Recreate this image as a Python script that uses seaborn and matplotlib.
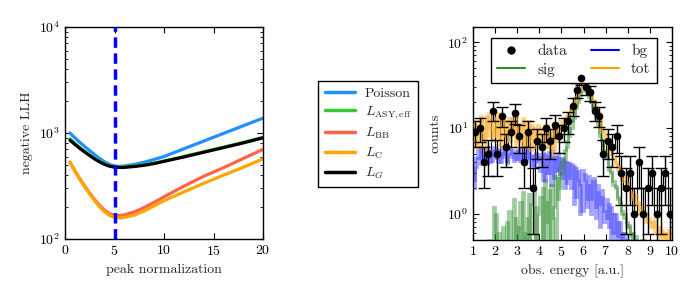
import numpy as np
import pandas as pd
import matplotlib
matplotlib.use("Agg")
import matplotlib.pyplot as plt
from matplotlib.lines import Line2D
import seaborn as sns

# ---------------- data: left panel (negative log-likelihood scans) ----------------
norm_x = [0.5, 1, 1.5, 2, 2.5, 3, 3.5, 4, 4.5, 5, 5.5, 6, 7, 8, 9, 10, 12, 14, 16, 18, 20]
llh_poisson = [1000, 900, 815, 745, 680, 625, 575, 535, 505, 488, 484, 488, 505, 530, 563,
               600, 709, 838, 990, 1170, 1380]
llh_asy = [880, 800, 730, 670, 620, 575, 540, 510, 490, 480, 477, 478, 487, 500, 520,
           545, 600, 665, 735, 815, 910]
llh_bb = [530, 440, 370, 315, 270, 235, 207, 187, 173, 167, 166, 169, 180, 198, 222,
          250, 315, 390, 470, 575, 700]
llh_c = [530, 437, 366, 310, 265, 229, 201, 181, 167, 160, 158, 160, 168, 184, 205,
         230, 278, 335, 400, 475, 570]
llh_g = [855, 780, 715, 660, 612, 568, 534, 505, 486, 476, 473, 474, 483, 496, 515,
         540, 594, 658, 728, 806, 900]
true_norm = 5
llh_labels = ["Poisson", r"$L_{\mathrm{ASY,eff}}$", r"$L_{\mathrm{BB}}$", r"$L_{\mathrm{C}}$", r"$L_G$"]
llh_colors = ["#1e90ff", "#32cd32", "#ff6347", "#ffa500", "#000000"]

# ---------------- data: right panel (spectrum) ----------------
data_edges = np.round(np.arange(1.0, 10.0001, 0.2), 2)
data_counts = [9, 10, 4, 5, 16, 5, 14, 6, 9, 15,
               8, 4, 9, 2, 7, 6, 10, 7, 11, 8,
               10, 12, 18, 28, 38, 30, 26, 16, 14, 5,
               7, 6, 8, 3, 2, 3, 1, 4, 1, 2,
               3, 1, 2, 3, 1]

model_edges = np.round(np.arange(1.0, 10.0001, 0.1), 2)
tot_a = [7, 12, 6, 13, 9, 5, 14, 10, 7, 13,
         8, 15, 6, 12, 10, 7, 13, 8, 12, 6,
         11, 7, 13, 6, 9, 12, 5.5, 10, 7, 8,
         10, 5.5, 8, 11, 6, 9, 5, 11, 7.5, 10,
         11, 13, 12, 15, 17, 19, 23, 26, 30, 33,
         35, 28, 30, 24, 20, 17, 15, 12, 10, 8,
         7.5, 6, 5.5, 4.5, 4, 3.6, 3.2, 2.6, 2.8, 2.2,
         2.0, 1.8, 1.5, 1.7, 1.3, 1.1, 1.2, 0.9, 1.0, 0.8,
         0.8, 0.7, 0.9, 0.6, 0.7, 0.55, 0.6, 0.5, 0.65, 0.5]
tot_b = [11, 6, 9, 14, 7, 12, 8, 15, 10, 8,
         13, 7, 11, 14, 8, 12, 7, 13, 9, 14,
         7, 11, 6, 12, 9, 7, 11, 6, 9, 11,
         6.5, 10, 11, 6, 8.5, 5.5, 11, 7, 9.5, 12,
         10, 12, 14, 13, 16, 20, 21, 25, 28, 31,
         32, 31, 27, 25, 21, 18, 14, 13, 9, 9,
         6.5, 6.8, 5, 4.8, 3.8, 3.3, 3.4, 2.5, 2.4, 2.3,
         1.9, 1.6, 1.7, 1.4, 1.4, 1.0, 1.1, 1.0, 0.8, 0.9,
         0.7, 0.8, 0.6, 0.7, 0.5, 0.65, 0.5, 0.6, 0.45, 0.55]
sig_a = [0, 0, 0, 0, 0, 0, 0, 0.5, 0, 1.2,
         0, 0.6, 0, 0, 0.4, 0.8, 0, 0, 1.5, 0,
         0.7, 0, 1.8, 0, 0.9, 0, 1.3, 2.2, 0, 1.0,
         1.6, 0, 2.5, 0.8, 1.9, 0, 1.2, 2.8, 1.5, 3.5,
         4, 5.5, 7, 9, 12, 15, 19, 22, 26, 29,
         30, 27, 25, 21, 17, 14, 11, 9, 7, 5.5,
         4.5, 3.6, 3.0, 2.4, 2.0, 1.6, 1.3, 1.1, 0.9, 0.8,
         0.7, 0.6, 0.5, 0.55, 0.45, 0.4, 0, 0.5, 0, 0,
         0, 0, 0, 0, 0, 0, 0, 0, 0, 0]
sig_b = [0, 0, 0, 0, 0, 0, 0.45, 0, 0, 0,
         1.0, 0, 0, 0.7, 0, 0, 1.1, 0, 0, 0.9,
         0, 1.4, 0, 0.6, 0, 1.7, 0, 0, 1.2, 0,
         0, 2.0, 0, 1.4, 0, 2.2, 0.9, 0, 2.6, 2.0,
         3, 4.5, 6, 8, 10, 13, 17, 20, 24, 27,
         28, 28, 23, 20, 18, 13, 12, 8, 7.5, 5,
         4.8, 3.3, 3.2, 2.2, 2.1, 1.5, 1.4, 1.0, 1.0, 0.7,
         0.75, 0.55, 0.6, 0.5, 0, 0.45, 0.5, 0, 0, 0,
         0, 0, 0, 0, 0, 0, 0, 0, 0, 0]
bg_a = [2, 3.5, 4.5, 6, 4, 5, 3.8, 5.5, 4.2, 6,
        4.5, 5.5, 4, 6, 5, 4.2, 5.8, 4.6, 5.2, 4.4,
        5.5, 4.2, 5, 3.8, 5.6, 4.5, 4.8, 3.6, 5.2, 4.3,
        4.6, 2.5, 5.0, 3.0, 5.3, 2.2, 4.6, 3.2, 5.2, 2.9,
        4.4, 2.0, 4.0, 2.6, 3.8, 1.3, 3.4, 2.5, 1.0, 3.3,
        2.5, 1.2, 2.8, 1.5, 2.6, 0.9, 2.2, 1.3, 1.9, 0.8,
        1.5, 0.7, 1.2, 0.6, 1.0, 0.55, 0.8, 0, 0.6, 0,
        0.5, 0.45, 0, 0.5, 0, 0, 0, 0, 0, 0,
        0, 0, 0, 0, 0, 0, 0, 0, 0, 0]
bg_b = [2.5, 4.5, 5.5, 3.8, 5.2, 4.4, 6, 4.0, 5.4, 4.8,
        5.6, 4.0, 5.2, 4.6, 6.2, 3.9, 5.0, 5.6, 4.1, 5.4,
        4.4, 5.8, 3.9, 5.1, 4.3, 5.5, 3.7, 4.9, 4.0, 5.0,
        3.2, 5.2, 2.4, 4.8, 3.0, 5.5, 2.6, 4.6, 3.3, 4.5,
        2.6, 4.2, 2.3, 3.9, 2.0, 3.6, 1.6, 3.2, 2.2, 1.1,
        2.9, 1.5, 2.2, 1.0, 2.4, 1.2, 1.8, 0.7, 1.6, 1.1,
        0.9, 1.3, 0.5, 1.0, 0.45, 0.8, 0, 0.6, 0, 0.5,
        0.45, 0, 0.5, 0, 0.45, 0, 0, 0, 0, 0,
        0, 0, 0, 0, 0, 0, 0, 0, 0, 0]

# ---------------- style ----------------
sns.set_style("ticks")
plt.rcParams.update({
    "font.family": ["serif"],
    "font.serif": ["cmr10", "DejaVu Serif"],
    "mathtext.fontset": "cm",
    "axes.formatter.use_mathtext": True,
    "font.size": 10,
    "axes.edgecolor": "black",
    "axes.linewidth": 1.0,
    "xtick.direction": "in",
    "ytick.direction": "in",
    "xtick.top": True,
    "ytick.right": True,
    "xtick.major.size": 4,
    "ytick.major.size": 4,
    "xtick.minor.size": 2,
    "ytick.minor.size": 2,
    "xtick.color": "black",
    "ytick.color": "black",
    "axes.unicode_minus": False,
})

fig = plt.figure(figsize=(7, 3), dpi=100)
ax1 = fig.add_axes([65 / 700, 61 / 300, 198 / 700, 212 / 300])
ax2 = fig.add_axes([473 / 700, 60 / 300, 199 / 700, 213 / 300])

# ---------------- left panel ----------------
series = [llh_poisson, llh_asy, llh_bb, llh_c, llh_g]
frames = []
for lab, vals in zip(llh_labels, series):
    frames.append(pd.DataFrame({"x": norm_x, "y": vals, "method": lab}))
df = pd.concat(frames, ignore_index=True)
sns.lineplot(data=df, x="x", y="y", hue="method", hue_order=llh_labels,
             palette=llh_colors, linewidth=2.3, ax=ax1, legend=False, sort=True)
ax1.axvline(true_norm, color="#0000ff", lw=2.5, ls=(0, (3, 1.6)), zorder=5)
ax1.set_yscale("log")
ax1.set_xlim(0, 20)
ax1.set_ylim(100, 10000)
ax1.set_xticks([0, 5, 10, 15, 20])
ax1.set_xlabel("peak normalization")
ax1.set_ylabel("negative LLH")

handles = [Line2D([], [], color=c, lw=2.5) for c in llh_colors]
fig.legend(handles, llh_labels, loc="center", bbox_to_anchor=(368 / 700, 1 - 134 / 300),
           frameon=True, fancybox=False, edgecolor="black", framealpha=1,
           handlelength=2.2, handletextpad=0.7, labelspacing=0.33, borderpad=0.45)

# ---------------- right panel ----------------
dedges = np.asarray(data_edges)
dcent = 0.5 * (dedges[:-1] + dedges[1:])
dcounts = np.asarray(data_counts, dtype=float)
err = np.sqrt(dcounts)
ax2.stairs(dcounts, dedges, baseline=None, color="black", lw=0.8, zorder=1)
ax2.errorbar(dcent, dcounts, yerr=[np.minimum(err, dcounts - 1e-3), err], fmt="o",
             color="black", ms=4.5, capsize=4, elinewidth=1.0, capthick=1.0, zorder=5)

for vals in (bg_a, bg_b):
    ax2.stairs(vals, model_edges, baseline=None, color="#3333ff", lw=2, alpha=0.45, zorder=2)
for vals in (sig_a, sig_b):
    ax2.stairs(vals, model_edges, baseline=None, color="#2e8b2e", lw=2, alpha=0.45, zorder=3)
for vals in (tot_a, tot_b):
    ax2.stairs(vals, model_edges, baseline=None, color="#ffb030", lw=2, alpha=0.55, zorder=4)

ax2.set_yscale("log")
ax2.set_xlim(1, 10)
ax2.set_ylim(0.5, 150)
ax2.set_xticks(range(1, 11))
ax2.set_xlabel("obs. energy [a.u.]")
ax2.set_ylabel("counts")

h2 = [Line2D([], [], color="black", marker="o", ls="none", ms=5),
      Line2D([], [], color="#2e8b2e", lw=1.5),
      Line2D([], [], color="#0000ff", lw=1.5),
      Line2D([], [], color="#ffa500", lw=1.5)]
ax2.legend(h2, ["data", "sig", "bg", "tot"], ncol=2, loc="upper center",
           bbox_to_anchor=(0.507, 0.985), frameon=True, fancybox=False, edgecolor="black",
           framealpha=1, fontsize=11, handlelength=1.8, handletextpad=0.8,
           columnspacing=1.6, labelspacing=0.3, borderpad=0.4)

fig.savefig("out.png", dpi=100)
